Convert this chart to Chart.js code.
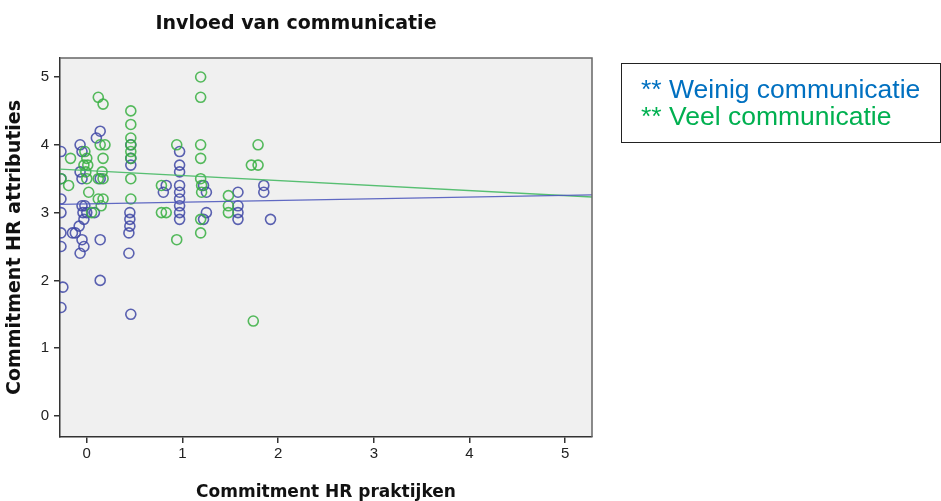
<!DOCTYPE html>
<html>
<head>
<meta charset="utf-8">
<script src="https://cdn.jsdelivr.net/npm/chart.js@4.4.1/dist/chart.umd.min.js"></script>
<style>
  html, body { margin: 0; padding: 0; background: #fff; }
  #wrap { position: relative; width: 941px; height: 501px; }
  #legendBox {
    position: absolute; left: 621px; top: 63px; width: 320px; height: 80px;
    border: 1.5px solid #222; box-sizing: border-box;
    font-family: "Liberation Sans", Arial, sans-serif; font-size: 26.5px; line-height: 27px;
    padding: 12px 0 0 19px; white-space: nowrap;
  }
  #legendBox .weinig { color: #0070c0; }
  #legendBox .veel { color: #00b050; }
</style>
</head>
<body>
<div id="wrap">
  <canvas id="scatterChart" width="941" height="501"></canvas>
  <div id="legendBox">
    <div class="weinig">** Weinig communicatie</div>
    <div class="veel">** Veel communicatie</div>
  </div>
</div>
<script>
// Weinig communicatie (blue)
const weinigX = [-0.27, -0.27, -0.27, -0.27, -0.27, -0.27, -0.25, -0.27,
    -0.07, -0.05, -0.07, -0.05, -0.05, -0.02, -0.04, 0.0, -0.03, -0.08, -0.15, -0.12, -0.05, -0.03, -0.07,
    0.14, 0.10, 0.14, 0.08, 0.14, 0.14,
    0.46, 0.46, 0.46, 0.45, 0.45, 0.45, 0.44, 0.44, 0.46,
    0.80, 0.83,
    0.97, 0.97, 0.97, 0.97, 0.97, 0.97, 0.97, 0.97, 0.97,
    1.22, 1.25, 1.25, 1.22,
    1.58, 1.58, 1.58, 1.58,
    1.85, 1.85, 1.92];
const weinigY = [3.9, 3.5, 3.2, 3.0, 2.7, 2.5, 1.9, 1.6,
    4.0, 3.9, 3.6, 3.5, 3.1, 3.1, 3.0, 3.0, 2.9, 2.8, 2.7, 2.7, 2.6, 2.5, 2.4,
    4.2, 4.1, 3.5, 3.0, 2.6, 2.0,
    4.0, 3.8, 3.7, 3.0, 2.9, 2.8, 2.7, 2.4, 1.5,
    3.3, 3.4,
    3.9, 3.7, 3.6, 3.4, 3.3, 3.2, 3.1, 3.0, 2.9,
    3.4, 3.3, 3.0, 2.9,
    3.3, 3.1, 3.0, 2.9,
    3.4, 3.3, 2.9];

// Veel communicatie (green)
const veelX = [-0.17, -0.19, -0.27,
    -0.02, 0.0, -0.03, 0.01, -0.01, 0.0, 0.02, 0.05,
    0.12, 0.17, 0.14, 0.19, 0.17, 0.16, 0.12, 0.17, 0.12, 0.17, 0.15,
    0.46, 0.46, 0.46, 0.46, 0.46, 0.46, 0.46, 0.46,
    0.78, 0.78, 0.83,
    0.94, 0.94,
    1.19, 1.19, 1.19, 1.19, 1.19, 1.2, 1.2, 1.19, 1.19,
    1.48, 1.48, 1.48,
    1.72, 1.79, 1.79, 1.74];
const veelY = [3.8, 3.4, 3.5,
    3.9, 3.8, 3.7, 3.7, 3.6, 3.5, 3.3, 3.0,
    4.7, 4.6, 4.0, 4.0, 3.8, 3.6, 3.5, 3.5, 3.2, 3.2, 3.1,
    4.5, 4.3, 4.1, 4.0, 3.9, 3.8, 3.5, 3.2,
    3.4, 3.0, 3.0,
    4.0, 2.6,
    5.0, 4.7, 4.0, 3.8, 3.5, 3.4, 3.3, 2.9, 2.7,
    3.25, 3.1, 3.0,
    3.7, 3.7, 4.0, 1.4];

// fit lines: [intercept, slope]
const weinigFit = [3.127, 0.0252];
const veelFit = [3.619, -0.0737];

const xTicks = [0, 1, 2, 3, 4, 5];
const yTicks = [0, 1, 2, 3, 4, 5];
const xMin = -0.28, xMax = 5.28;
const yMin = -0.31, yMax = 5.28;

const toPoints = (xs, ys) => xs.map((x, i) => ({ x: x, y: ys[i] }));
const fitLine = (fit) => [xMin, xMax].map(x => ({ x: x, y: fit[0] + fit[1] * x }));

const blue = 'rgba(62, 70, 165, 0.85)';
const green = 'rgba(55, 175, 65, 0.85)';

const plotBox = {
    id: 'plotBox',
    beforeDraw(chart) {
        const { ctx, chartArea: a } = chart;
        ctx.save();
        ctx.fillStyle = '#f0f0f0';
        ctx.fillRect(a.left, a.top, a.right - a.left, a.bottom - a.top);
        ctx.restore();
    },
    afterDraw(chart) {
        const { ctx, chartArea: a } = chart;
        ctx.save();
        ctx.strokeStyle = '#666';
        ctx.lineWidth = 1.5;
        ctx.beginPath();
        ctx.moveTo(a.left, a.top);
        ctx.lineTo(a.right, a.top);
        ctx.lineTo(a.right, a.bottom);
        ctx.stroke();
        ctx.restore();
    }
};

const ctx = document.getElementById('scatterChart');
new Chart(ctx, {
    type: 'scatter',
    data: {
        datasets: [
            {
                label: 'Weinig communicatie',
                data: toPoints(weinigX, weinigY),
                borderColor: blue,
                backgroundColor: 'rgba(0,0,0,0)',
                borderWidth: 1.6,
                pointRadius: 5,
                order: 2
            },
            {
                label: 'Veel communicatie',
                data: toPoints(veelX, veelY),
                borderColor: green,
                backgroundColor: 'rgba(0,0,0,0)',
                borderWidth: 1.6,
                pointRadius: 5,
                order: 1
            },
            {
                type: 'line',
                label: 'fit weinig',
                data: fitLine(weinigFit),
                borderColor: 'rgba(80, 90, 190, 0.9)',
                borderWidth: 1.3,
                pointRadius: 0,
                fill: false,
                order: 0
            },
            {
                type: 'line',
                label: 'fit veel',
                data: fitLine(veelFit),
                borderColor: 'rgba(70, 185, 100, 0.9)',
                borderWidth: 1.3,
                pointRadius: 0,
                fill: false,
                order: 0
            }
        ]
    },
    options: {
        responsive: false,
        animation: false,
        layout: { padding: { top: 0, right: 349, left: 0, bottom: 0 } },
        plugins: {
            legend: { display: false },
            tooltip: { enabled: false },
            title: {
                display: true,
                text: 'Invloed van communicatie',
                color: '#111',
                font: { family: 'DejaVu Sans', size: 19, weight: 'bold' },
                padding: { top: 13, bottom: 22.2 },
                align: 'center'
            }
        },
        scales: {
            x: {
                type: 'linear',
                min: xMin,
                max: xMax,
                afterBuildTicks: (axis) => { axis.ticks = xTicks.map(v => ({ value: v })); },
                afterFit: (axis) => { axis.height = 64; },
                ticks: {
                    color: '#222',
                    font: { family: 'Liberation Sans', size: 15 },
                    padding: 2
                },
                grid: { drawOnChartArea: false, drawTicks: true, tickLength: 6, color: '#333', lineWidth: 1.5 },
                border: { display: true, color: '#333', width: 1.5 },
                title: {
                    display: true,
                    text: 'Commitment HR praktijken',
                    color: '#111',
                    font: { family: 'DejaVu Sans', size: 17, weight: 'bold' },
                    padding: { top: 10, bottom: -2 }
                }
            },
            y: {
                type: 'linear',
                min: yMin,
                max: yMax,
                afterBuildTicks: (axis) => { axis.ticks = yTicks.map(v => ({ value: v })); },
                afterFit: (axis) => { axis.width = 60; },
                ticks: {
                    color: '#222',
                    font: { family: 'Liberation Sans', size: 15 },
                    padding: 5
                },
                grid: { drawOnChartArea: false, drawTicks: true, tickLength: 6, color: '#333', lineWidth: 1.5 },
                border: { display: true, color: '#333', width: 1.5 },
                title: {
                    display: true,
                    text: 'Commitment HR attributies',
                    color: '#111',
                    font: { family: 'DejaVu Sans', size: 19, weight: 'bold' },
                    padding: { bottom: 4 }
                }
            }
        }
    },
    plugins: [plotBox]
});
</script>
</body>
</html>
